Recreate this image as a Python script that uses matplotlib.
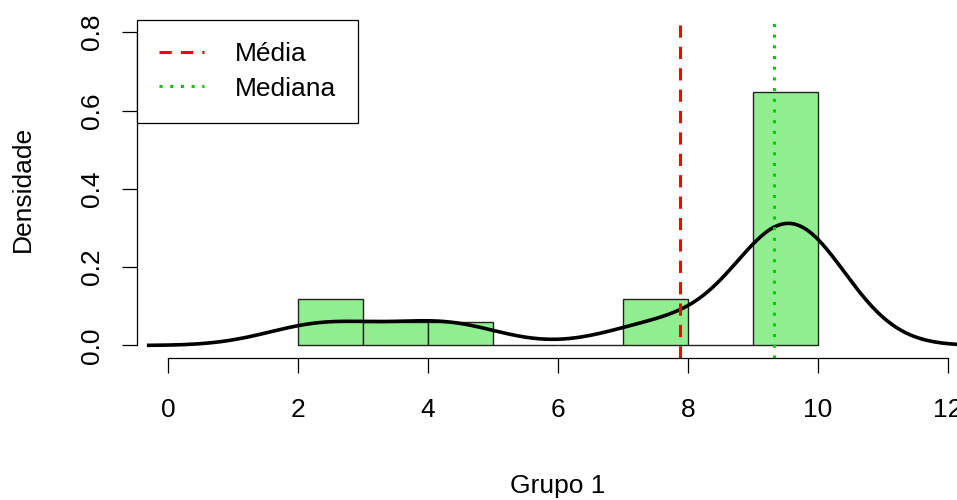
import numpy as np
import matplotlib.pyplot as plt

plt.rcParams['font.family'] = ['Liberation Sans', 'DejaVu Sans']

# valores do Grupo 1 (estimados a partir do histograma)
grupo1 = [2.1, 2.7, 4.0, 4.5,
          7.3, 7.9,
          9.2, 9.3, 9.33, 9.4, 9.5, 9.55, 9.6, 9.7, 9.85, 9.87, 10.0]
breaks = np.arange(2, 11, 1)
bw = 0.8

x = np.array(grupo1)
# classes fechadas a direita, como hist() do R
counts = np.histogram(-x, bins=-breaks[::-1])[0][::-1]
dens = counts / (len(x) * np.diff(breaks))

# densidade kernel gaussiana (como density() do R, cut = 3)
grid = np.linspace(x.min() - 3 * bw, x.max() + 3 * bw, 512)
kde = np.exp(-0.5 * ((grid[:, None] - x[None, :]) / bw) ** 2).sum(axis=1) / (len(x) * bw * np.sqrt(2 * np.pi))

media = x.mean()
mediana = np.median(x)

fig = plt.figure(figsize=(9.57, 5.0), dpi=100)
ax = fig.add_axes([137 / 957, 142 / 500, 842 / 957, 338.3 / 500])

ax.bar(breaks[:-1], dens, width=1, align='edge', color='#90EE90', edgecolor='#222222', linewidth=1)
ax.plot(grid, kde, color='black', linewidth=2.6)
ax.axvline(media, color='#FF0000', linewidth=2.2, linestyle=(0, (4, 3)), label='Média')
ax.axvline(mediana, color='#00CD00', linewidth=2.2, linestyle=(0, (1, 2.5)), label='Mediana')

ax.set_xlim(-0.48, 12.48)
ax.set_ylim(-0.032, 0.832)
ax.set_xticks(range(0, 13, 2))
ax.set_yticks([0, 0.2, 0.4, 0.6, 0.8])
ax.set_yticklabels(['0.0', '0.2', '0.4', '0.6', '0.8'], rotation=90, va='center')
for s in ['top', 'right']:
    ax.spines[s].set_visible(False)
ax.spines['left'].set_bounds(0, 0.8)
ax.spines['bottom'].set_bounds(0, 12)
for s in ['left', 'bottom']:
    ax.spines[s].set_linewidth(0.9)
ax.tick_params(labelsize=19, length=11, width=0.9)
ax.tick_params(axis='x', pad=18)
ax.tick_params(axis='y', pad=13)

ax.set_xlabel('Grupo 1', fontsize=19, labelpad=37)
ax.set_ylabel('Densidade', fontsize=19, labelpad=32)

leg = ax.legend(loc='upper left', bbox_to_anchor=(0, 1), borderaxespad=0, fontsize=19,
                handlelength=1.7, handletextpad=1.15, borderpad=0.85, labelspacing=0.4,
                fancybox=False, edgecolor='black', framealpha=1)
leg.get_frame().set_linewidth(0.9)

fig.savefig('out.png', dpi=100)
